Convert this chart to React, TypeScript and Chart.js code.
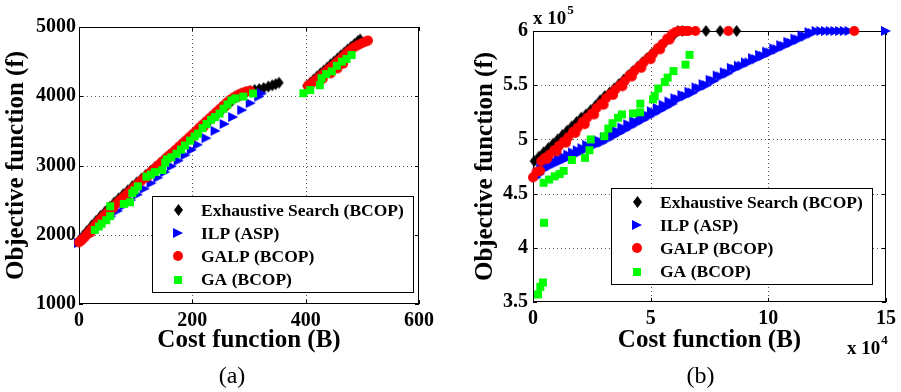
import React, { useEffect, useRef } from 'react';
import { Chart, registerables } from 'chart.js';

Chart.register(...registerables);

type P = [number, number];

const SERIF = '"Liberation Serif", "Times New Roman", serif';

const seriesLabels = ['Exhaustive Search (BCOP)', 'ILP (ASP)', 'GALP (BCOP)', 'GA (BCOP)'];
const seriesColors = ['#000000', '#0000ff', '#ff0000', '#00ff00'];
const seriesShapes = ['diamond', 'triangleRight', 'circle', 'square'];

// ---------- panel (a) ----------
const aXTicks = [0, 200, 400, 600];
const aYTicks = [1000, 2000, 3000, 4000, 5000];

const exhaustiveA: P[] = [
  [0, 1915], [7, 1985], [14, 2055], [22, 2130], [30, 2200], [38, 2270], [46, 2335], [54, 2400],
  [62, 2465], [70, 2525], [78, 2585], [86, 2640], [94, 2700], [102, 2755], [110, 2810], [118, 2865],
  [126, 2920], [134, 2975], [142, 3030], [150, 3085], [158, 3140], [166, 3195], [174, 3250], [182, 3305],
  [190, 3360], [198, 3415], [206, 3470], [214, 3530], [222, 3590], [230, 3645], [238, 3700], [246, 3760],
  [254, 3820], [262, 3875], [270, 3935], [278, 3990], [286, 4030], [294, 4055], [302, 4075], [310, 4092],
  [318, 4105], [326, 4120], [334, 4140], [341, 4158], [347, 4175], [353, 4195],
  [402, 4150], [408, 4195], [414, 4240], [420, 4285], [426, 4330], [432, 4370], [438, 4415], [444, 4460],
  [450, 4500], [456, 4545], [462, 4590], [468, 4630], [474, 4675], [480, 4715], [486, 4755], [492, 4795],
  [496, 4820],
];

const ilpA: P[] = [
  [0, 1880], [10, 1950], [21, 2020], [33, 2100], [45, 2185], [57, 2265], [69, 2345], [80, 2420],
  [92, 2500], [104, 2580], [116, 2665], [128, 2745], [140, 2825], [152, 2905], [164, 2990], [176, 3070],
  [188, 3150], [199, 3225], [210, 3300], [225, 3395], [241, 3500], [257, 3600], [272, 3700], [288, 3800],
  [303, 3900], [318, 3995], [323, 4040],
];

const galpA: P[] = [
  [0, 1890], [3, 1910], [6, 1935], [10, 1965], [14, 2005], [18, 2045], [23, 2090], [28, 2135],
  [33, 2180], [38, 2225], [44, 2275], [50, 2320], [56, 2370], [62, 2420], [68, 2465], [74, 2510],
  [80, 2555], [86, 2600], [92, 2645], [98, 2690], [104, 2735], [110, 2780], [116, 2825], [122, 2870],
  [128, 2915], [134, 2960], [140, 3005], [146, 3050], [152, 3095], [158, 3140], [164, 3180], [170, 3225],
  [176, 3270], [182, 3315], [188, 3360], [194, 3405], [200, 3450], [206, 3495], [212, 3545], [218, 3590],
  [224, 3635], [230, 3680], [236, 3725], [242, 3770], [248, 3815], [254, 3860], [260, 3905], [266, 3945],
  [272, 3980], [278, 4010], [284, 4035], [290, 4055], [296, 4070], [302, 4080],
  [20, 2030], [40, 2210], [60, 2380], [80, 2530], [100, 2690], [120, 2830], [140, 2970], [160, 3120],
  [180, 3270], [200, 3410], [220, 3560], [240, 3720], [260, 3870], [280, 3990],
  [404, 4150], [410, 4185], [416, 4225], [422, 4265], [428, 4305], [434, 4345], [440, 4390], [446, 4430],
  [452, 4470], [458, 4515], [464, 4560], [470, 4605], [476, 4650], [482, 4690], [488, 4720], [494, 4745],
  [500, 4770], [506, 4790], [510, 4805], [430, 4250], [444, 4330], [456, 4400], [466, 4470],
];

const gaA: P[] = [
  [28, 2070], [35, 2120], [40, 2160], [48, 2210], [55, 2270], [55, 2410], [79, 2445], [90, 2470],
  [94, 2600], [98, 2640], [104, 2700], [119, 2840], [127, 2870], [134, 2905], [147, 2935], [152, 3040],
  [155, 3090], [163, 3120], [172, 3170], [180, 3230], [187, 3290], [196, 3360], [204, 3420], [210, 3460],
  [218, 3540], [225, 3600], [233, 3660], [240, 3700], [248, 3750], [255, 3820], [262, 3880], [269, 3940],
  [276, 3970], [290, 3995], [307, 4040],
  [396, 4045], [408, 4090], [425, 4160], [428, 4260], [436, 4320], [446, 4360], [455, 4440], [464, 4500],
  [472, 4540], [481, 4595],
];

// ---------- panel (b) (x in 10^4, y in 10^5) ----------
const bXTicks = [0, 5, 10, 15];
const bYTicks = [3.5, 4, 4.5, 5, 5.5, 6];

const exhaustiveB: P[] = [
  [0.05, 4.8], [0.25, 4.84], [0.45, 4.88], [0.65, 4.92], [0.85, 4.96], [1.05, 5.0], [1.25, 5.04],
  [1.45, 5.08], [1.65, 5.12], [1.85, 5.16], [2.05, 5.2], [2.25, 5.23], [2.45, 5.27], [2.65, 5.31],
  [2.85, 5.36], [3.05, 5.4], [3.25, 5.43], [3.45, 5.47], [3.65, 5.51], [3.85, 5.55], [4.05, 5.59],
  [4.25, 5.63], [4.45, 5.67], [4.65, 5.71], [4.85, 5.75], [5.05, 5.79], [5.25, 5.83], [5.45, 5.87],
  [5.65, 5.91], [5.85, 5.94], [6.0, 5.97], [6.15, 6.0], [6.35, 6.0], [7.35, 6.0], [7.95, 6.0], [8.65, 6.0],
];

const ilpB: P[] = [
  [0.15, 4.65], [0.2, 4.7], [0.3, 4.68], [0.35, 4.74], [0.45, 4.72], [0.5, 4.77], [0.6, 4.74], [0.7, 4.78],
  [0.8, 4.76], [0.9, 4.8], [1.0, 4.78], [1.1, 4.82], [1.2, 4.8], [1.3, 4.84], [1.4, 4.82], [1.5, 4.86],
  [1.6, 4.84], [1.7, 4.88], [1.8, 4.86], [1.9, 4.9], [2.0, 4.88], [2.1, 4.92], [2.2, 4.9], [2.3, 4.95],
  [2.45, 4.93], [2.55, 4.97], [2.7, 4.95], [2.8, 4.99], [2.95, 4.97], [3.05, 5.02], [3.2, 5.0], [3.3, 5.05],
  [3.45, 5.03], [3.55, 5.08], [3.7, 5.06], [3.8, 5.11], [3.95, 5.09], [4.05, 5.14], [4.2, 5.12], [4.3, 5.17],
  [4.45, 5.15], [4.55, 5.2], [4.7, 5.18], [4.8, 5.23], [4.95, 5.21], [5.05, 5.26], [5.2, 5.24], [5.3, 5.29],
  [5.45, 5.27], [5.55, 5.32], [5.7, 5.3], [5.8, 5.35], [5.95, 5.33], [6.05, 5.38], [6.2, 5.37], [6.35, 5.41],
  [6.5, 5.4], [6.65, 5.44], [6.8, 5.43], [6.95, 5.48], [7.1, 5.47], [7.25, 5.51], [7.4, 5.5], [7.55, 5.55],
  [7.7, 5.54], [7.85, 5.59], [8.0, 5.58], [8.15, 5.62], [8.3, 5.61], [8.45, 5.66], [8.6, 5.65], [8.75, 5.68],
  [8.9, 5.68], [9.05, 5.71], [9.2, 5.71], [9.35, 5.75], [9.5, 5.74], [9.65, 5.78], [9.8, 5.77], [9.95, 5.81],
  [10.1, 5.8], [10.25, 5.84], [10.4, 5.83], [10.55, 5.87], [10.7, 5.86], [10.85, 5.9], [11.0, 5.89],
  [11.15, 5.93], [11.3, 5.92], [11.45, 5.96], [11.6, 5.95], [11.75, 5.99], [11.9, 5.98], [12.05, 6.0],
  [12.25, 6.0], [12.45, 6.0], [12.65, 6.0], [12.85, 6.0], [13.05, 6.0], [13.25, 6.0], [13.45, 6.0], [15.0, 6.0],
];

const galpB: P[] = [
  [0.0, 4.65], [0.15, 4.7], [0.3, 4.71], [0.35, 4.8], [0.5, 4.83], [0.7, 4.86], [0.9, 4.9], [1.1, 4.94],
  [1.3, 4.98], [1.5, 5.02], [1.7, 5.07], [1.9, 5.11], [2.1, 5.16], [2.3, 5.2], [2.5, 5.24], [2.7, 5.29],
  [2.9, 5.33], [3.1, 5.38], [3.3, 5.42], [3.5, 5.46], [3.7, 5.5], [3.9, 5.54], [4.1, 5.59], [4.3, 5.63],
  [4.5, 5.67], [4.7, 5.71], [4.9, 5.75], [5.1, 5.79], [5.3, 5.84], [5.5, 5.88], [5.7, 5.93], [5.9, 5.97],
  [6.05, 5.99], [6.2, 6.0], [6.35, 6.0], [6.5, 6.0], [6.6, 6.0], [6.9, 6.0], [8.3, 6.0], [13.65, 6.0],
  [0.6, 4.82], [1.0, 4.89], [1.4, 4.97], [1.8, 5.06], [2.2, 5.14], [2.6, 5.23], [3.0, 5.32], [3.4, 5.41],
  [3.8, 5.49], [4.2, 5.58], [4.6, 5.66], [5.0, 5.74], [5.4, 5.83], [5.8, 5.92],
];

const gaB: P[] = [
  [0.21, 3.57], [0.31, 3.64], [0.42, 3.68], [0.47, 4.23], [0.45, 4.6], [0.68, 4.63], [0.92, 4.66],
  [1.13, 4.68], [1.3, 4.71], [1.65, 4.81], [2.21, 4.83], [2.4, 4.9], [2.45, 5.0], [3.03, 5.03],
  [3.2, 5.1], [3.38, 5.15], [3.61, 5.2], [3.78, 5.23], [4.25, 5.24], [4.55, 5.25], [4.56, 5.33],
  [5.1, 5.37], [5.17, 5.4], [5.32, 5.47], [5.6, 5.53], [5.72, 5.57], [5.97, 5.63], [6.48, 5.69],
  [6.65, 5.78],
];

// ---------- helpers ----------
function makeMarker(shape: string, color: string): HTMLCanvasElement {
  const c = document.createElement('canvas');
  let w = 12;
  let h = 12;
  if (shape === 'diamond') { w = 11; h = 14; }
  if (shape === 'square') { w = 10; h = 10; }
  c.width = w;
  c.height = h;
  const g = c.getContext('2d') as CanvasRenderingContext2D;
  g.fillStyle = color;
  g.beginPath();
  if (shape === 'diamond') {
    g.moveTo(5.5, 1); g.lineTo(10, 7); g.lineTo(5.5, 13); g.lineTo(1, 7);
  } else if (shape === 'triangleRight') {
    g.moveTo(1, 1); g.lineTo(11, 6); g.lineTo(1, 11);
  } else if (shape === 'circle') {
    g.arc(6, 6, 5, 0, Math.PI * 2);
  } else {
    g.rect(1, 1, 8, 8);
  }
  g.closePath();
  g.fill();
  return c;
}

const framePlugin = {
  id: 'matlabFrame',
  beforeDatasetsDraw(chart: any) {
    const { ctx, chartArea: a } = chart;
    const xs = chart.scales.x;
    const ys = chart.scales.y;
    ctx.save();
    ctx.lineWidth = 1;
    ctx.strokeStyle = '#555';
    ctx.setLineDash([1, 3]);
    ctx.beginPath();
    xs.ticks.forEach((t: any) => {
      if (t.value === xs.min || t.value === xs.max) return;
      const px = Math.round(xs.getPixelForValue(t.value)) + 0.5;
      ctx.moveTo(px, a.top); ctx.lineTo(px, a.bottom);
    });
    ys.ticks.forEach((t: any) => {
      if (t.value === ys.min || t.value === ys.max) return;
      const py = Math.round(ys.getPixelForValue(t.value)) + 0.5;
      ctx.moveTo(a.left, py); ctx.lineTo(a.right, py);
    });
    ctx.stroke();
    ctx.setLineDash([]);
    ctx.strokeStyle = '#000';
    ctx.beginPath();
    const tl = 4;
    xs.ticks.forEach((t: any) => {
      const px = Math.round(xs.getPixelForValue(t.value)) + 0.5;
      ctx.moveTo(px, a.bottom); ctx.lineTo(px, a.bottom - tl);
      ctx.moveTo(px, a.top); ctx.lineTo(px, a.top + tl);
    });
    ys.ticks.forEach((t: any) => {
      const py = Math.round(ys.getPixelForValue(t.value)) + 0.5;
      ctx.moveTo(a.left, py); ctx.lineTo(a.left + tl, py);
      ctx.moveTo(a.right, py); ctx.lineTo(a.right - tl, py);
    });
    ctx.stroke();
    ctx.strokeRect(a.left + 0.5, a.top + 0.5, a.right - a.left - 1, a.bottom - a.top - 1);
    ctx.restore();
  },
  afterDatasetsDraw(chart: any, _args: any, opts: any) {
    const L = opts && opts.legend;
    if (!L) return;
    const ctx = chart.ctx;
    ctx.save();
    ctx.fillStyle = '#fff';
    ctx.fillRect(L.x, L.y, L.w, L.h);
    ctx.strokeStyle = '#000';
    ctx.lineWidth = 1;
    ctx.strokeRect(L.x + 0.5, L.y + 0.5, L.w, L.h);
    ctx.font = `bold 17.5px ${SERIF}`;
    ctx.textBaseline = 'middle';
    ctx.textAlign = 'left';
    ctx.fillStyle = '#000';
    chart.data.datasets.forEach((ds: any, i: number) => {
      const cy = L.y + 14 + i * 23.2;
      const img = ds.pointStyle as HTMLCanvasElement;
      ctx.drawImage(img, Math.round(L.x + 26 - img.width / 2), Math.round(cy - img.height / 2));
      ctx.fillText(ds.label, L.x + 49, cy + 1);
    });
    ctx.restore();
  },
  afterDraw(chart: any, _args: any, opts: any) {
    const ctx = chart.ctx;
    ctx.save();
    ctx.fillStyle = '#000';
    if (opts && opts.caption) {
      ctx.font = `24px ${SERIF}`;
      ctx.textAlign = 'center';
      ctx.textBaseline = 'middle';
      ctx.fillText(opts.caption.text, opts.caption.x, opts.caption.y);
    }
    ((opts && opts.exponents) || []).forEach((e: any) => {
      ctx.font = `bold 19px ${SERIF}`;
      ctx.textAlign = 'left';
      ctx.textBaseline = 'middle';
      ctx.fillText(e.base, e.x, e.y);
      const w = ctx.measureText(e.base).width;
      ctx.font = `bold 13px ${SERIF}`;
      ctx.fillText(e.exp, e.x + w + 1, e.y - 8);
    });
    ctx.restore();
  },
};

interface PanelCfg {
  series: P[][];
  xMin: number; xMax: number; yMin: number; yMax: number;
  xTicks: number[]; yTicks: number[];
  padRight: number; padTop: number; yAxisW: number; xAxisH: number;
  yTickPad: number; yTitlePad: number;
  legend: { x: number; y: number; w: number; h: number };
  caption: { text: string; x: number; y: number };
  exponents: { base: string; exp: string; x: number; y: number }[];
}

function buildConfig(p: PanelCfg): any {
  const tickFont = { family: SERIF, size: 20, weight: 'bold' as const };
  const titleFont = { family: SERIF, size: 25, weight: 'bold' as const };
  const datasets = p.series.map((data, i) => ({
    label: seriesLabels[i],
    data: data.map(([x, y]) => ({ x, y })),
    pointStyle: makeMarker(seriesShapes[i], seriesColors[i]),
    pointRadius: 5,
    pointHoverRadius: 5,
    backgroundColor: seriesColors[i],
    borderColor: seriesColors[i],
    borderWidth: 0,
    showLine: false,
    clip: false,
    order: 4 - i,
  }));
  return {
    type: 'scatter',
    data: { datasets },
    plugins: [framePlugin],
    options: {
      responsive: false,
      animation: false,
      devicePixelRatio: 1,
      events: [],
      layout: { padding: { left: 0, right: p.padRight, top: p.padTop, bottom: 0 } },
      plugins: {
        legend: { display: false },
        tooltip: { enabled: false },
        matlabFrame: { legend: p.legend, caption: p.caption, exponents: p.exponents },
      },
      scales: {
        x: {
          type: 'linear',
          min: p.xMin,
          max: p.xMax,
          afterBuildTicks: (s: any) => { s.ticks = p.xTicks.map((v) => ({ value: v })); },
          afterFit: (s: any) => { s.height = p.xAxisH; },
          grid: { display: false, drawTicks: false },
          border: { display: false },
          ticks: { padding: 5, autoSkip: false, maxRotation: 0, minRotation: 0, color: '#000', font: tickFont, callback: (v: any) => String(v) },
          title: { display: true, text: 'Cost function (B)', color: '#000', font: titleFont, padding: { top: 0, bottom: 36 } },
        },
        y: {
          type: 'linear',
          min: p.yMin,
          max: p.yMax,
          afterBuildTicks: (s: any) => { s.ticks = p.yTicks.map((v) => ({ value: v })); },
          afterFit: (s: any) => { s.width = p.yAxisW; },
          grid: { display: false, drawTicks: false },
          border: { display: false },
          ticks: { padding: p.yTickPad, autoSkip: false, color: '#000', font: tickFont, callback: (v: any) => String(v) },
          title: { display: true, text: 'Objective function (f)', color: '#000', font: titleFont, padding: { top: p.yTitlePad, bottom: 0 } },
        },
      },
    },
  };
}

export default function App() {
  const refA = useRef<HTMLCanvasElement | null>(null);
  const refB = useRef<HTMLCanvasElement | null>(null);

  useEffect(() => {
    const cfgA: PanelCfg = {
      series: [exhaustiveA, ilpA, galpA, gaA],
      xMin: 0, xMax: 600, yMin: 1000, yMax: 5000,
      xTicks: aXTicks, yTicks: aYTicks,
      padRight: 31, padTop: 27, yAxisW: 79, xAxisH: 88,
      yTickPad: 3, yTitlePad: 2,
      legend: { x: 152, y: 196, w: 261, h: 96 },
      caption: { text: '(a)', x: 232, y: 377 },
      exponents: [],
    };
    const cfgB: PanelCfg = {
      series: [exhaustiveB, ilpB, galpB, gaB],
      xMin: 0, xMax: 15, yMin: 3.5, yMax: 6,
      xTicks: bXTicks, yTicks: bYTicks,
      padRight: 13, padTop: 31, yAxisW: 83, xAxisH: 90,
      yTickPad: 5, yTitlePad: 21,
      legend: { x: 161, y: 188, w: 261, h: 96 },
      caption: { text: '(b)', x: 250.5, y: 377 },
      exponents: [
        { base: 'x 10', exp: '5', x: 83, y: 19 },
        { base: 'x 10', exp: '4', x: 397, y: 349 },
      ],
    };
    const a = new Chart(refA.current as HTMLCanvasElement, buildConfig(cfgA));
    const b = new Chart(refB.current as HTMLCanvasElement, buildConfig(cfgB));
    return () => { a.destroy(); b.destroy(); };
  }, []);

  return (
    <div style={{ position: 'absolute', left: 0, top: 0, width: 901, height: 392, background: '#fff' }}>
      <canvas ref={refA} width={450} height={392} style={{ position: 'absolute', left: 0, top: 0, width: 450, height: 392 }} />
      <canvas ref={refB} width={451} height={392} style={{ position: 'absolute', left: 450, top: 0, width: 451, height: 392 }} />
    </div>
  );
}
